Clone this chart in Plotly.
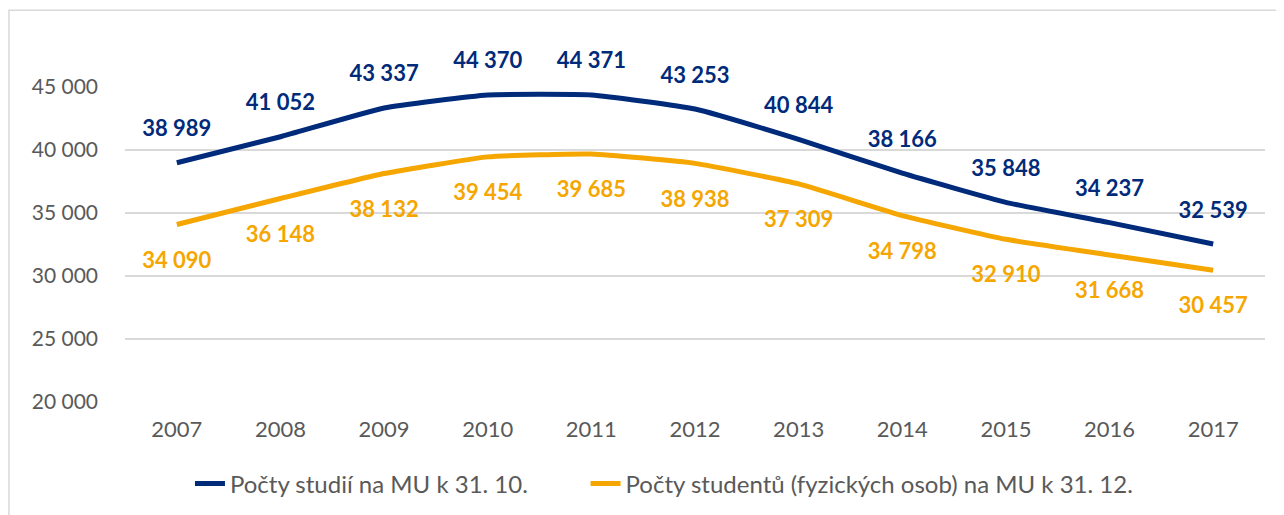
import plotly.graph_objects as go

years = ['2007', '2008', '2009', '2010', '2011', '2012', '2013', '2014', '2015', '2016', '2017']
studia = [38989, 41052, 43337, 44370, 44371, 43253, 40844, 38166, 35848, 34237, 32539]
studenti = [34090, 36148, 38132, 39454, 39685, 38938, 37309, 34798, 32910, 31668, 30457]
y_ticks = [20000, 25000, 30000, 35000, 40000, 45000]
names = ['Počty studií na MU k 31. 10.', 'Počty studentů (fyzických osob) na MU k 31. 12.']

BLUE = '#002a7a'
ORANGE = '#f5a600'
FONT = 'Lato, sans-serif'


def fmt(v):
    return f'{v:,}'.replace(',', ' ')


fig = go.Figure()
fig.add_trace(go.Scatter(x=years, y=studia, mode='lines', name=names[0], legend='legend',
                         line=dict(color=BLUE, width=5, shape='spline', smoothing=0.4)))
fig.add_trace(go.Scatter(x=years, y=studenti, mode='lines', name=names[1], legend='legend2',
                         line=dict(color=ORANGE, width=5, shape='spline', smoothing=0.4)))

# data labels: blue above, orange below (invisible markers push the text away)
fig.add_trace(go.Scatter(x=years, y=studia, mode='markers+text', showlegend=False,
                         text=[fmt(v) for v in studia], textposition='top center',
                         marker=dict(size=32, opacity=0), cliponaxis=False,
                         textfont=dict(family=FONT, size=22, color=BLUE, weight='bold'),
                         hoverinfo='skip'))
fig.add_trace(go.Scatter(x=years, y=studenti, mode='markers+text', showlegend=False,
                         text=[fmt(v) for v in studenti], textposition='bottom center',
                         marker=dict(size=41, opacity=0), cliponaxis=False,
                         textfont=dict(family=FONT, size=22, color=ORANGE, weight='bold'),
                         hoverinfo='skip'))

# chart frame
fig.add_shape(type='rect', xref='paper', yref='paper', x0=-0.1018, x1=1.2, y0=-0.5, y1=1.244,
              line=dict(color='#d9d9d9', width=1.5), layer='below')

leg = dict(orientation='h', xanchor='left', y=-0.26, yanchor='middle', itemwidth=30,
           font=dict(family=FONT, size=24, color='#595959'))

fig.update_layout(
    width=1284, height=515,
    margin=dict(l=117, r=27, t=79, b=121, autoexpand=False),
    autotypenumbers='strict',
    plot_bgcolor='white', paper_bgcolor='white',
    font=dict(family=FONT, size=22, color='#595959'),
    showlegend=True,
    legend=dict(leg, x=0.057),
    legend2=dict(leg, x=0.404),
)
fig.update_xaxes(type='category', showgrid=False, showline=False, ticks='', ticklabelstandoff=12,
                 range=[-0.5, 10.5], tickfont=dict(size=22, color='#595959'))
fig.update_yaxes(range=[20000, 45000], tickvals=y_ticks, ticktext=[fmt(v) for v in y_ticks],
                 showgrid=True, gridcolor='#d9d9d9', gridwidth=1.5, zeroline=False,
                 showline=False, ticks='', ticklabelstandoff=26,
                 tickfont=dict(size=21, color='#595959'))

fig.write_html('out.html')
